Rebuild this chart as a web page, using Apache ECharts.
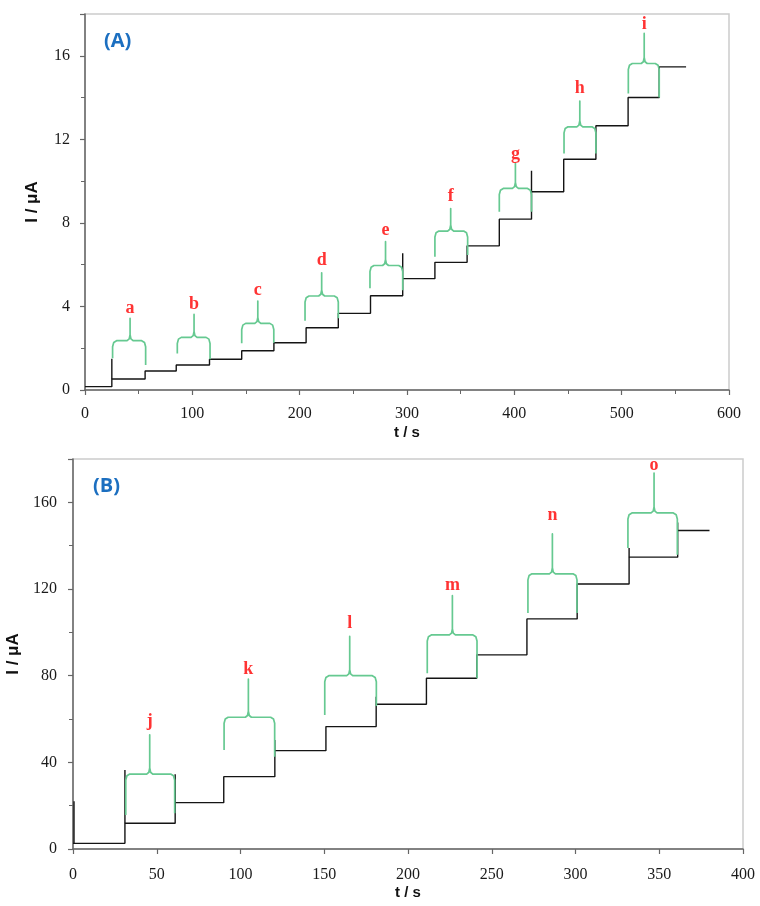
<!DOCTYPE html>
<html>
<head>
<meta charset="utf-8">
<script src="https://cdn.jsdelivr.net/npm/echarts@6/dist/echarts.min.js"></script>
<style>
html,body{margin:0;padding:0;background:#fff;}
#chart{width:760px;height:906px;}
</style>
</head>
<body>
<div id="chart"></div>
<script>
// ---------- Panel A data ----------
const stepTimesA = [0, 25, 56, 85, 116, 146, 176, 206, 236, 266, 296, 326, 356, 386, 416, 446, 476, 506, 535, 560];
const levelsA    = [0.16, 0.53, 0.91, 1.20, 1.47, 1.88, 2.26, 2.98, 3.67, 4.51, 5.33, 6.11, 6.90, 8.18, 9.49, 11.05, 12.65, 14.00, 15.47, 15.47];
const spikeTimeA = [25, 296, 416];
const spikeLowA  = [0.53, 5.33, 9.49];
const spikeHighA = [1.50, 6.55, 10.50];
const braceLettersA = ['a','b','c','d','e','f','g','h','i'];
const braceStartA   = [25.7, 86, 146, 205, 265.5, 326, 386, 446.3, 506.2];
const braceEndA     = [56.5, 116.5, 175.9, 236, 296, 356.5, 416, 476, 535];
const braceLeftLowA = [1.52, 1.75, 2.24, 3.32, 4.87, 6.38, 8.53, 11.32, 14.2];
const braceRightLowA= [1.20, 1.47, 2.26, 3.43, 4.78, 6.46, 8.53, 11.32, 14.0];
const braceBarA     = [2.36, 2.52, 3.19, 4.50, 5.96, 7.61, 9.65, 12.60, 15.63];
const bracePeakA    = [3.43, 3.62, 4.26, 5.61, 7.10, 8.69, 10.85, 13.83, 17.07];
const braceCenterA  = [42, 101.6, 161, 220.5, 280, 340.7, 401, 461, 521];
const letterYA      = [3.92, 4.10, 4.75, 6.19, 7.65, 9.25, 11.29, 14.43, 17.5];
const xTicksA = [0, 100, 200, 300, 400, 500, 600];
const yTicksA = [0, 4, 8, 12, 16];

// ---------- Panel B data ----------
const stepTimesB = [0, 31, 61, 90, 120.5, 151, 181, 211, 241, 271, 301, 332, 361, 380];
const levelsB    = [2.6, 11.9, 21.4, 33.4, 45.4, 56.5, 66.8, 78.8, 89.6, 106.2, 122.3, 134.7, 147.0, 147.0];
const spikeTimeB = [0.6, 31, 61, 120.5, 181, 332, 361];
const spikeLowB  = [2.6, 11.9, 21.4, 45.4, 66.8, 134.7, 147.0];
const spikeHighB = [22, 36.5, 34.5, 50.3, 70.3, 138.9, 150.7];
const braceLettersB = ['j','k','l','m','n','o'];
const braceStartB   = [31.5, 90.2, 150.3, 211.5, 271.6, 331.3];
const braceEndB     = [60.7, 120.4, 181.1, 241.2, 300.9, 360.8];
const braceLeftLowB = [15.7, 45.7, 61.9, 81.1, 108.9, 138.9];
const braceRightLowB= [16.5, 42.6, 66.0, 78.8, 108.9, 135.8];
const braceBarB     = [34.6, 60.8, 80.0, 98.8, 127.0, 155.1];
const bracePeakB    = [52.7, 78.4, 98.1, 116.9, 145.4, 173.5];
const braceCenterB  = [45.8, 104.7, 165.2, 226.5, 286.2, 346.9];
const letterYB      = [58.8, 83.0, 104.2, 121.9, 153.8, 177.0];
const xTicksB = [0, 50, 100, 150, 200, 250, 300, 350, 400];
const yTicksB = [0, 40, 80, 120, 160];

// ---------- style constants ----------
const GREEN = '#66c991';
const BLACK = '#141414';
const AXIS = '#666666';
const FRAME = '#cccccc';

function stepData(ts, ls){ return ts.map((t,i)=>[t, ls[i]]); }

function bracePoints(x0, x1, yl, yr, yh, yp, xc, dx, dy, cdx, cdy){
  const k = 0.29;
  return [
    [x0, yl], [x0, yh-dy], [x0+k*dx, yh-k*dy], [x0+dx, yh],
    [xc-cdx, yh], [xc-k*cdx, yh+k*cdy], [xc, yh+cdy], [xc, yp],
    [xc, yh+cdy], [xc+k*cdx, yh+k*cdy], [xc+cdx, yh],
    [x1-dx, yh], [x1-k*dx, yh-k*dy], [x1, yh-dy], [x1, yr]
  ];
}

const series = [];
function addPanel(idx, ts, ls, sT, sL, sH, letters, bS, bE, bL, bR, bB, bP, bC, lY, dx, dy, cdx, cdy){
  series.push({
    type:'line', xAxisIndex:idx, yAxisIndex:idx, step:'end', symbol:'none',
    data: stepData(ts, ls), lineStyle:{color:BLACK, width:1.4}, z:3, silent:true
  });
  sT.forEach((t,i)=>{
    series.push({type:'line', xAxisIndex:idx, yAxisIndex:idx, symbol:'none',
      data:[[t, sL[i]],[t, sH[i]]], lineStyle:{color:BLACK, width:1.4}, z:3, silent:true});
  });
  letters.forEach((L,i)=>{
    series.push({type:'line', xAxisIndex:idx, yAxisIndex:idx, symbol:'none',
      data: bracePoints(bS[i], bE[i], bL[i], bR[i], bB[i], bP[i], bC[i], dx, dy, cdx, cdy),
      lineStyle:{color:GREEN, width:1.7, join:'round'}, z:4, silent:true});
  });
  series.push({
    type:'scatter', xAxisIndex:idx, yAxisIndex:idx, symbolSize:0, silent:true, z:5,
    data: letters.map((L,i)=>({name:L, value:[bC[i], lY[i]]})),
    label:{show:true, position:'inside', formatter:'{b}', color:'#ff0000',
      fontFamily:'Liberation Serif', fontWeight:'bold', fontSize:18}
  });
}
addPanel(0, stepTimesA, levelsA, spikeTimeA, spikeLowA, spikeHighA, braceLettersA,
  braceStartA, braceEndA, braceLeftLowA, braceRightLowA, braceBarA, bracePeakA, braceCenterA, letterYA,
  3.7, 0.29, 2.8, 0.29);
addPanel(1, stepTimesB, levelsB, spikeTimeB, spikeLowB, spikeHighB, braceLettersB,
  braceStartB, braceEndB, braceLeftLowB, braceRightLowB, braceBarB, bracePeakB, braceCenterB, letterYB,
  2.4, 2.8, 1.8, 2.8);

const tickFont = {fontFamily:'Liberation Serif', fontSize:16, color:'#1a1a1a'};
const xNameFont = {fontFamily:'Liberation Sans', fontWeight:'bold', fontSize:15, color:'#111'};
const yNameFont = {fontFamily:'Liberation Sans', fontWeight:'bold', fontSize:17, color:'#111'};

function xAx(grid, max, interval, ticks, gap, margin){
  return {type:'value', gridIndex:grid, min:0, max:max, interval:interval,
    name:'t / s', nameLocation:'middle', nameGap:gap, nameTextStyle:xNameFont,
    axisLine:{show:true, onZero:false, lineStyle:{color:AXIS, width:1.5}},
    axisTick:{show:true, inside:false, length:5, lineStyle:{color:AXIS, width:1.2}},
    minorTick:{show: grid===0, splitNumber:2, length:4, lineStyle:{color:AXIS}},
    axisLabel:Object.assign({margin:margin, formatter:(v)=> ticks.indexOf(v)>=0 ? String(v) : ''}, tickFont),
    splitLine:{show:false}, minorSplitLine:{show:false}};
}
function yAx(grid, max, interval, ticks, gap, margin){
  return {type:'value', gridIndex:grid, min:0, max:max, interval:interval,
    name:'I / μA', nameLocation:'middle', nameGap:gap, nameRotate:90, nameTextStyle:yNameFont,
    axisLine:{show:true, onZero:false, lineStyle:{color:AXIS, width:1.5}},
    axisTick:{show:true, inside:false, length:5, lineStyle:{color:AXIS, width:1.2}},
    minorTick:{show:true, splitNumber:2, length:4, lineStyle:{color:AXIS}},
    axisLabel:Object.assign({margin:margin, showMaxLabel:false, formatter:(v)=> ticks.indexOf(v)>=0 ? String(v) : ''}, tickFont),
    splitLine:{show:false}, minorSplitLine:{show:false}};
}

const chart = echarts.init(document.getElementById('chart'), null, {renderer:'canvas'});
chart.setOption({
  backgroundColor:'#fff',
  animation:false,
  grid:[
    {left:85, top:14, width:644, height:376, show:true, borderColor:FRAME, borderWidth:1.5, backgroundColor:'transparent', containLabel:false, outerBoundsMode:'none'},
    {left:73, top:459, width:670, height:390, show:true, borderColor:FRAME, borderWidth:1.5, backgroundColor:'transparent', containLabel:false, outerBoundsMode:'none'}
  ],
  xAxis:[ xAx(0, 600, 100, xTicksA, 35, 16), xAx(1, 400, 50, xTicksB, 36, 18) ],
  yAxis:[ yAx(0, 18, 4, yTicksA, 44, 15), yAx(1, 180, 40, yTicksB, 45, 16) ],
  graphic:[
    {type:'text', left:104, top:31, style:{text:'(A)', font:'bold 20px "Open Sans", "Liberation Sans", sans-serif', fill:'#1c6fc0'}},
    {type:'text', left:93, top:476, style:{text:'(B)', font:'bold 20px "Open Sans", "Liberation Sans", sans-serif', fill:'#1c6fc0'}}
  ],
  series: series
});
</script>
</body>
</html>
